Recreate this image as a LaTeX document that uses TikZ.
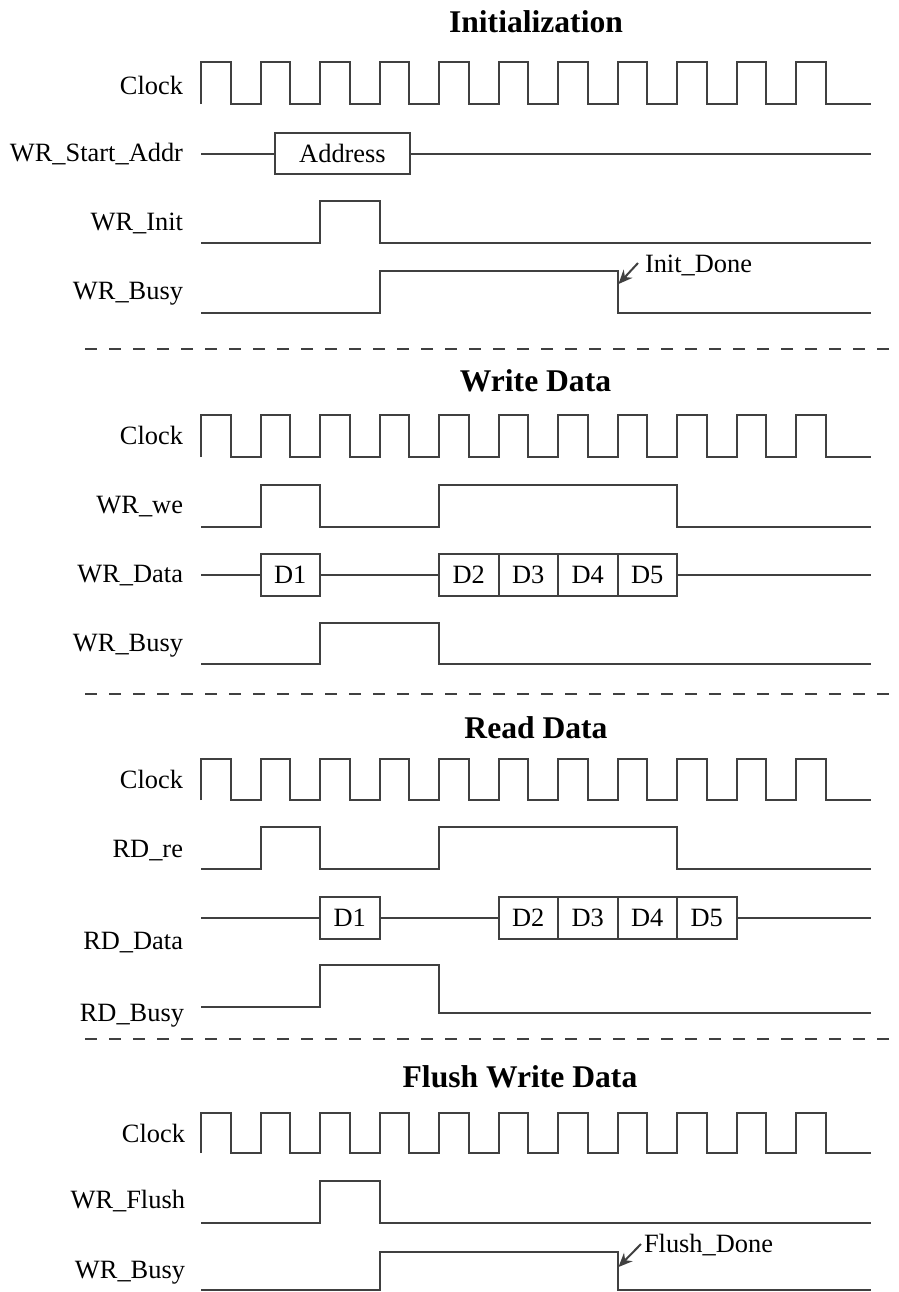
\documentclass[tikz,border=0pt]{standalone}
\usepackage{fontspec}
\setmainfont{Liberation Serif}
\usetikzlibrary{arrows.meta}
% one clock line: #1 high level, #2 low level
\newcommand{\clockwave}[2]{\draw[sig] (201,#2) \foreach \k in {0,...,10}{ -- ({201+59.5*\k},#2) -- ({201+59.5*\k},#1) -- ({230.75+59.5*\k},#1) -- ({230.75+59.5*\k},#2)} -- (871,#2);}
\begin{document}
\begin{tikzpicture}[x=0.5pt,y=-0.5pt,line width=1pt,>={Stealth[length=7pt,width=6pt]}]
	\tikzset{every node/.style={font=\fontsize{13.2}{15}\selectfont},
		sig/.style={draw=black!75},
		lbl/.style={anchor=base east,inner sep=0pt},
		ttl/.style={anchor=base,inner sep=0pt,font=\fontsize{15.8}{18}\bfseries\selectfont},
		dbox/.style={draw=black!75,inner sep=0pt,minimum width=29.75pt,minimum height=21pt},
		sep/.style={draw=black!75,dash pattern=on 6pt off 6pt}}
	\useasboundingbox (0,0) rectangle (899,1292);
	% Initialization
	\node[ttl] (tinit) at (536,32) {Initialization};
	\node[lbl] (clka) at (184,94) {Clock};
	\node[lbl] (addr) at (184,161) {WR\_Start\_Addr};
	\node[lbl] (init) at (184,230) {WR\_Init};
	\node[lbl] (busya) at (184,299) {WR\_Busy};
	\clockwave{62}{104}
	\node[dbox,minimum width=67.5pt,minimum height=20.5pt] (abox) at (342.5,153.5) {Address};
	\draw[sig] (201,153.5) -- (abox.west) (abox.east) -- (871,153.5);
	\draw[sig] (201,243)--(320,243)--(320,201)--(379.5,201)--(379.5,243)--(871,243);
	\draw[sig] (201,313)--(379.5,313)--(379.5,271)--(617.5,271)--(617.5,313)--(871,313);
	\node[anchor=base west,inner sep=0pt] (idone) at (644,272) {Init\_Done};
	\coordinate (idtip) at (618.5,284);
	\draw[sig,->] ([shift={(-6,-9)}]idone.base west) -- (idtip);
	\draw[sep] (85,349) -- (893,349);
	% Write Data
	\node[ttl] (twr) at (535.5,391) {Write Data};
	\node[lbl] (clkb) at (184,444) {Clock};
	\node[lbl] (we) at (184,513) {WR\_we};
	\node[lbl] (wdata) at (184,582) {WR\_Data};
	\node[lbl] (busyb) at (184,651) {WR\_Busy};
	\clockwave{415}{457}
	\draw[sig] (201,527)--(260.5,527)--(260.5,485)--(320,485)--(320,527)--(439,527)--(439,485)--(677,485)--(677,527)--(871,527);
	\node[dbox] (wd1) at (290.25,574.5) {D1};
	\node[dbox] (wd2) at (468.75,574.5) {D2};
	\node[dbox] (wd3) at (528.25,574.5) {D3};
	\node[dbox] (wd4) at (587.75,574.5) {D4};
	\node[dbox] (wd5) at (647.25,574.5) {D5};
	\draw[sig] (201,574.5) -- (wd1.west) (wd1.east) -- (wd2.west) (wd5.east) -- (871,574.5);
	\draw[sig] (201,664)--(320,664)--(320,623)--(439,623)--(439,664)--(871,664);
	\draw[sep] (85,694) -- (893,694);
	% Read Data
	\node[ttl] (trd) at (536,738) {Read Data};
	\node[lbl] (clkc) at (184,788) {Clock};
	\node[lbl] (re) at (184,857) {RD\_re};
	\node[lbl] (rdata) at (184,949) {RD\_Data};
	\node[lbl] (busyc) at (185,1021) {RD\_Busy};
	\clockwave{759}{800}
	\draw[sig] (201,869)--(260.5,869)--(260.5,827)--(320,827)--(320,869)--(439,869)--(439,827)--(677,827)--(677,869)--(871,869);
	\node[dbox] (rd1) at (349.75,918) {D1};
	\node[dbox] (rd2) at (528.25,918) {D2};
	\node[dbox] (rd3) at (587.75,918) {D3};
	\node[dbox] (rd4) at (647.25,918) {D4};
	\node[dbox] (rd5) at (706.75,918) {D5};
	\draw[sig] (201,918) -- (rd1.west) (rd1.east) -- (rd2.west) (rd5.east) -- (871,918);
	\draw[sig] (201,1007)--(320,1007)--(320,965)--(439,965)--(439,1013)--(871,1013);
	\draw[sep] (85,1039) -- (893,1039);
	% Flush Write Data
	\node[ttl] (tfl) at (520,1087) {Flush Write Data};
	\node[lbl] (clkd) at (186,1142) {Clock};
	\node[lbl] (flush) at (186,1208) {WR\_Flush};
	\node[lbl] (busyd) at (186,1278) {WR\_Busy};
	\clockwave{1113}{1153}
	\draw[sig] (201,1223)--(320,1223)--(320,1181)--(379.5,1181)--(379.5,1223)--(871,1223);
	\draw[sig] (201,1290)--(379.5,1290)--(379.5,1252)--(617.5,1252)--(617.5,1290)--(871,1290);
	\node[anchor=base west,inner sep=0pt] (fdone) at (643,1252) {Flush\_Done};
	\coordinate (fdtip) at (618.5,1267);
	\draw[sig,->] ([shift={(-2,-8)}]fdone.base west) -- (fdtip);
\end{tikzpicture}
\end{document}
